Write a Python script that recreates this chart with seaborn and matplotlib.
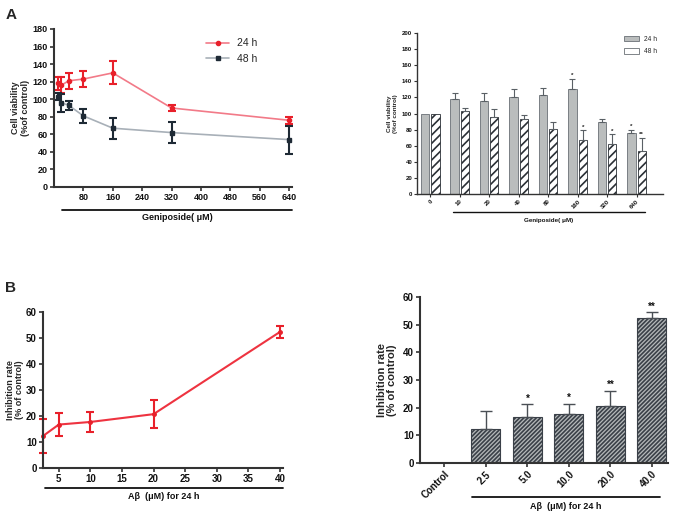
import numpy as np
import pandas as pd
import matplotlib
matplotlib.use("Agg")
import matplotlib.pyplot as plt
import seaborn as sns
from matplotlib.lines import Line2D

# ===== DATA =====
doses = [0, 10, 20, 40, 80, 160, 320, 640]
dose_labels = ["0", "10", "20", "40", "80", "160", "320", "640"]
via_24h = [100, 118, 116, 121, 123, 130, 90, 76]
via_48h = [100, 103, 96, 93, 81, 67, 62, 54]
err_24h = [0, 7, 9, 9, 9, 13, 3, 4]
err_48h = [0, 4, 10, 5, 8, 12, 12, 16]
stars_24h = ["", "", "", "", "", "*", "", "*"]
stars_48h = ["", "", "", "", "", "*", "*", "**"]

ab_conc = [2.5, 5, 10, 20, 40]
ab_labels = ["Control", "2.5", "5.0", "10.0", "20.0", "40.0"]
ctrl_inhib = 0
inhib = [12.3, 16.7, 17.7, 20.7, 52.3]
inhib_err = [6.5, 4.5, 3.7, 5.5, 2.3]
inhib_stars = ["", "", "*", "*", "**", "**"]

# ===== STYLE =====
sns.set_theme(style="ticks")
plt.rcParams['font.family'] = ['Liberation Sans', 'DejaVu Sans']
plt.rcParams['font.weight'] = 'bold'
plt.rcParams['axes.labelweight'] = 'bold'

RED = '#e8202a'
PINK = '#f27a88'
DARK = '#1e2a35'
GREYLINE = '#a8b0b8'
SPINE = '#333333'

fig = plt.figure(figsize=(6.77, 5.15), dpi=100)


def style_axes(ax, lw=1.5, tick_fs=6.5, tlen=3):
    sns.despine(ax=ax)
    for s in ['left', 'bottom']:
        ax.spines[s].set_linewidth(lw)
        ax.spines[s].set_color(SPINE)
    ax.tick_params(width=lw * 0.8, length=tlen, color=SPINE, labelsize=tick_fs,
                   pad=1.5, labelcolor='#111111')
    for lab in ax.get_xticklabels() + ax.get_yticklabels():
        lab.set_fontweight('bold')


def underline(ax, x0, x1, y, text, ty, fs, lw=1.3):
    ax.plot([x0, x1], [y, y], transform=ax.transAxes, clip_on=False,
            color='#111111', lw=lw)
    ax.text((x0 + x1) / 2, ty, text, transform=ax.transAxes, ha='center',
            va='center', fontsize=fs, fontweight='bold', color='#111111')


# ===== A left: line chart =====
ax1 = fig.add_axes([0.0798, 0.6369, 0.3516, 0.3068])
sns.lineplot(x=doses[1:], y=via_24h[1:], color=PINK, lw=1.2, ax=ax1)
sns.lineplot(x=doses[1:], y=via_48h[1:], color=GREYLINE, lw=1.2, ax=ax1)
ax1.errorbar(doses[1:], via_24h[1:], yerr=err_24h[1:], fmt='o', ms=3,
             color=RED, capsize=3, elinewidth=1.5, capthick=1.5, clip_on=False)
ax1.errorbar(doses[1:], via_48h[1:], yerr=err_48h[1:], fmt='s', ms=3,
             color=DARK, capsize=3, elinewidth=1.5, capthick=1.5, clip_on=False)
ax1.set_xlim(0, 648)
ax1.set_ylim(0, 180)
ax1.set_xticks(range(80, 641, 80))
ax1.set_yticks(range(0, 181, 20))
ax1.set_ylabel("Cell viability\n(%of control)", fontsize=6.5, labelpad=2,
               linespacing=1.1)
style_axes(ax1)
underline(ax1, 0.034, 1.0, -0.146, "Geniposide( μM)", -0.19, 6.5)
handles = [Line2D([], [], color=PINK, lw=1.2, marker='o', ms=3,
                  markerfacecolor=RED, markeredgecolor=RED),
           Line2D([], [], color=GREYLINE, lw=1.2, marker='s', ms=3,
                  markerfacecolor=DARK, markeredgecolor=DARK)]
leg = ax1.legend(handles, ["24 h", "48 h"], loc='upper left',
                 bbox_to_anchor=(0.6, 1.0), frameon=False, fontsize=7.5,
                 handlelength=2.2, labelspacing=0.5)
for t in leg.get_texts():
    t.set_fontweight('normal')

# ===== A right: grouped bars =====
ax2 = fig.add_axes([0.616, 0.6233, 0.3634, 0.3126])
df_via = pd.DataFrame({
    'dose': dose_labels * 2,
    'viability': via_24h + via_48h,
    'time': ['24 h'] * len(dose_labels) + ['48 h'] * len(dose_labels),
})
plt.rcParams['hatch.linewidth'] = 1.2
sns.barplot(data=df_via, x='dose', y='viability', hue='time',
            order=dose_labels, palette=['#b9bdbd', 'white'],
            edgecolor='#6a7075', linewidth=0.6, width=0.7, gap=0.2,
            errorbar=None, ax=ax2)
for bar in ax2.containers[1]:
    bar.set_hatch('////')
    bar.set_edgecolor('#2a2f35')
for cont, errs, stars in [(ax2.containers[0], err_24h, stars_24h),
                          (ax2.containers[1], err_48h, stars_48h)]:
    for bar, e, st in zip(cont, errs, stars):
        xc = bar.get_x() + bar.get_width() / 2
        h = bar.get_height()
        if e > 0:
            ax2.errorbar(xc, h, yerr=[[0], [e]], color='#5a6065', capsize=2,
                         elinewidth=0.8, capthick=0.8)
        if st:
            ax2.text(xc, h + e + 1, st, ha='center', va='bottom', fontsize=4.5,
                     color='#222222')
ax2.set_xlim(-0.45, 7.9)
ax2.set_ylim(0, 200)
ax2.set_yticks(range(0, 201, 20))
ax2.set_xlabel("")
ax2.set_ylabel("Cell viability\n(%of control)", fontsize=4.5, labelpad=3,
               linespacing=1.1)
style_axes(ax2, lw=1.0, tick_fs=4.3, tlen=2)
plt.setp(ax2.get_xticklabels(), rotation=45, ha='right',
         rotation_mode='anchor')
underline(ax2, 0.146, 0.927, -0.112, "Geniposide( μM)", -0.165, 4.5, lw=1.0)
leg2 = ax2.legend(loc='upper right', bbox_to_anchor=(1.0, 1.02),
                  frameon=False, fontsize=4.8, handlelength=2.2,
                  handleheight=0.9, labelspacing=0.8)
for t in leg2.get_texts():
    t.set_fontweight('normal')

# ===== B left: line chart =====
ax3 = fig.add_axes([0.0635, 0.0913, 0.3545, 0.3029])
sns.lineplot(x=ab_conc, y=inhib, color='#ee3340', lw=1.5, ax=ax3)
ax3.errorbar(ab_conc, inhib, yerr=inhib_err, fmt='o', ms=2.5, color=RED,
             capsize=3, elinewidth=1.5, capthick=1.5, clip_on=False)
ax3.set_xlim(2.5, 40.5)
ax3.set_ylim(0, 60)
ax3.set_xticks(range(5, 41, 5))
ax3.set_yticks(range(0, 61, 10))
ax3.set_ylabel("Inhibition rate\n(% of control)", fontsize=6.5, labelpad=1,
               linespacing=1.1)
style_axes(ax3, tick_fs=7)
underline(ax3, 0.008, 1.0, -0.128, "Aβ  (μM) for 24 h", -0.186, 6.5)

# ===== B right: bars =====
ax4 = fig.add_axes([0.6204, 0.1010, 0.3663, 0.3223])
sns.barplot(x=ab_labels, y=[ctrl_inhib] + inhib, color='#b4babb',
            edgecolor='#3a4048', linewidth=0.8, width=0.7, errorbar=None,
            ax=ax4)
bars4 = ax4.containers[0]
for bar in bars4:
    bar.set_hatch('////////')
for bar, e, st in zip(bars4, [0] + inhib_err, inhib_stars):
    xc = bar.get_x() + bar.get_width() / 2
    h = bar.get_height()
    if e > 0:
        ax4.errorbar(xc, h, yerr=[[0], [e]], color='#4a4f55', capsize=4,
                     elinewidth=1.0, capthick=1.0)
    if st:
        ax4.text(xc, h + e + 0.2, st, ha='center', va='bottom', fontsize=7,
                 fontweight='bold', color='#111111')
ax4.set_xlim(-0.59, 5.39)
ax4.set_ylim(0, 60)
ax4.set_yticks(range(0, 61, 10))
ax4.set_ylabel("Inhibition rate\n(% of control)", fontsize=8, labelpad=4,
               linespacing=1.1)
style_axes(ax4, tick_fs=7)
plt.setp(ax4.get_xticklabels(), rotation=45, ha='right',
         rotation_mode='anchor')
underline(ax4, 0.21, 0.968, -0.205, "Aβ  (μM) for 24 h", -0.265, 6.5)

# ===== PANEL LETTERS =====
fig.text(0.008, 0.985, "A", fontsize=11, fontweight='bold', va='top')
fig.text(0.008, 0.455, "B", fontsize=11, fontweight='bold', va='top')

fig.savefig("out.png", dpi=100, facecolor='white')
